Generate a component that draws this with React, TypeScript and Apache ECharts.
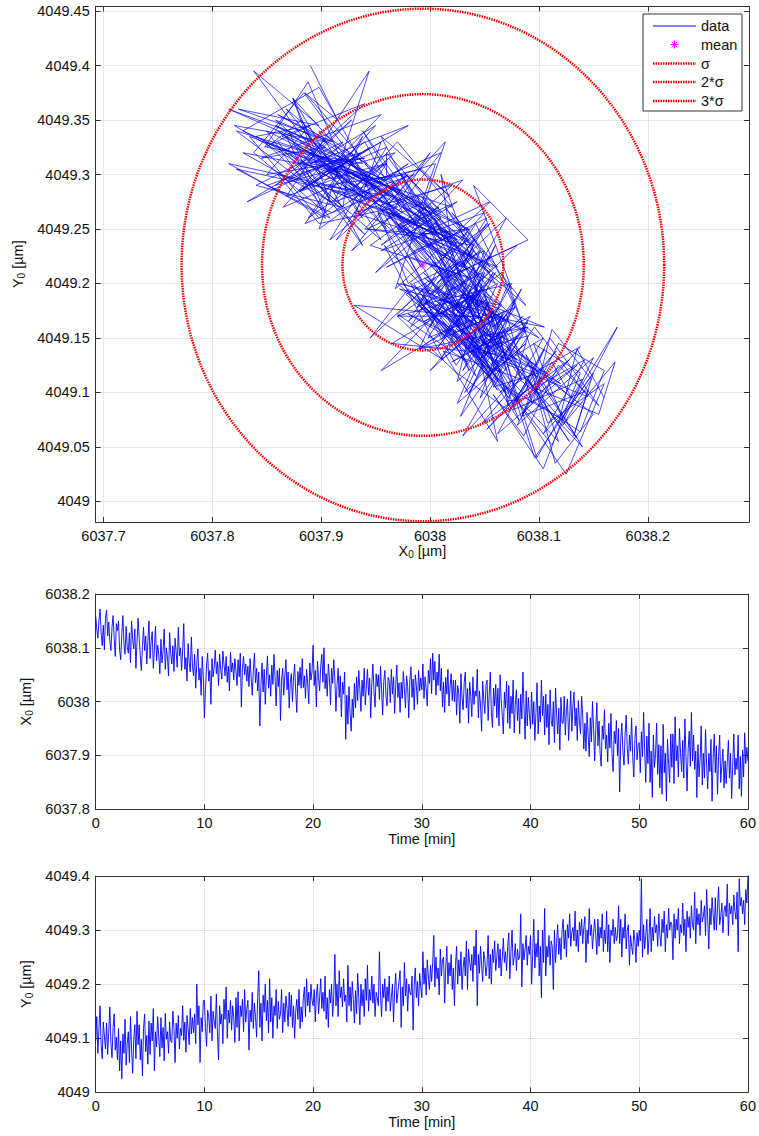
import React, { useEffect, useRef } from "react";
import * as echarts from "echarts";

// ---- data ----
// deviations in nm (0.001 µm) from the reference values, sampled every 0.1 min
const X0_REF_UM = 6038.0;
const Y0_REF_UM = 4049.0;
const SAMPLE_STEP_MIN = 0.1;

const x0DevNm: number[] = [
  160, 135, 118, 150, 172, 128, 104, 142, 96, 155,
  170, 122, 148, 112, 95, 138, 160, 118, 84, 145,
  132, 150, 96, 78, 125, 160, 108, 88, 140, 102,
  90, 128, 72, 150, 115, 98, 135, 62, 110, 155,
  118, 86, 58, 104, 138, 95, 122, 70, 112, 150,
  80, 112, 130, 62, 98, 140, 76, 105, 88, 52,
  116, 72, 94, 135, 60, 100, 82, 48, 128, 90,
  70, 104, 56, 118, 92, 64, 138, 85, 100, 58,
  96, 145, 60, 82, 38, 108, 72, 55, 120, 66,
  48, 88, 25, 72, 98, 40, 62, 12, 84, 45,
  -30, 22, 70, 90, 38, 58, -5, 80, 46, 65,
  96, 52, 74, 30, 88, 60, 42, 94, 70, 48,
  84, 36, 66, 20, 92, 55, 72, 40, 80, 58,
  30, 78, 46, 90, -10, 62, 84, 50, 70, 38,
  66, 28, 80, 44, 12, 58, 90, 35, 62, 20,
  55, -45, 30, 72, 18, 60, -5, 48, 85, 25,
  50, 10, 68, 32, 88, 45, -8, 58, 28, 62,
  -35, 40, 62, 12, 48, 78, 22, 55, -12, 36,
  52, 0, 44, 70, 18, -20, 56, 30, 64, 25,
  80, 26, 48, 6, 60, 35, -4, 72, 40, 55,
  105, 30, 58, -10, 75, 44, 20, 66, 88, 36,
  100, 24, 52, 10, 70, 45, -6, 62, 34, 78,
  42, -18, 30, 62, 8, 48, -28, 36, 14, 55,
  -70, 12, -42, 28, -20, -55, 5, -30, 34, -12,
  46, 2, 58, 24, -18, 40, 10, 62, -6, 30,
  60, 12, 44, -30, 36, 70, 18, -10, 52, 28,
  50, 4, 66, 22, -25, 38, 58, 12, -8, 45,
  40, -2, 60, 14, 46, -22, 30, 68, 8, 35,
  -20, 36, 6, 56, 22, -12, 48, 28, -30, 40,
  65, 8, 42, -15, 50, 30, -5, 58, 20, 44,
  22, 70, 6, 46, 25, -8, 58, 34, 80, 15,
  90, 40, 75, 12, 55, 30, 88, 20, 62, -10,
  36, -20, 45, 14, 60, -8, 28, 52, 2, 40,
  0, 40, -25, 30, 15, -40, 52, 8, -15, 35,
  55, -12, 24, -40, 36, 10, -28, 46, -5, 20,
  10, 60, -30, 20, -6, -55, 38, 4, -22, 30,
  40, -35, 14, 55, -20, -48, 25, -8, 32, -30,
  25, -45, 50, 4, -25, -60, 18, -12, 38, -40,
  30, -50, 10, -22, 40, -58, -5, 22, -35, 6,
  -60, 14, -32, 55, -10, -70, 20, -45, 8, -25,
  -50, 18, -42, 0, -72, -20, 35, -60, -8, -38,
  40, -26, 10, -62, 14, -48, -5, -80, 22, -35,
  -46, 0, -76, 25, -22, -60, -12, -90, 8, -40,
  -40, 10, -62, -16, 5, -72, -30, 20, -55, -8,
  18, -45, -12, -72, 2, -38, -60, 10, -25, -88,
  -40, -92, -20, -62, -102, -30, -75, 0, -50, -110,
  -52, -2, -82, -36, -96, -120, -45, -70, -15, -88,
  -62, -112, -40, -86, -22, -98, -130, -55, -78, -35,
  -100, -50, -168, -72, -40, -92, -118, -60, -25, -86,
  -116, -62, -92, -30, -102, -140, -70, -45, -108, -80,
  -76, -132, -56, -102, -20, -90, -150, -64, -115, -40,
  -150, -92, -178, -62, -122, -98, -40, -135, -80, -160,
  -82, -172, -42, -132, -96, -185, -70, -115, -150, -60,
  -122, -60, -152, -28, -110, -82, -140, -50, -95, -130,
  -72, -142, -32, -102, -166, -88, -55, -120, -20, -110,
  -62, -126, -92, -178, -80, -140, -108, -45, -155, -96,
  -142, -52, -116, -162, -96, -130, -70, -185, -104, -60,
  -132, -82, -172, -102, -62, -150, -118, -88, -160, -110,
  -152, -112, -72, -142, -96, -180, -120, -60, -136, -105,
  -126, -62, -162, -102, -176, -90, -140, -58, -115, -85,
  -110,
];

const y0DevNm: number[] = [
  95, 140, 72, 118, 160, 88, 62, 130, 104, 80,
  128, 70, 112, 158, 92, 64, 120, 145, 78, 102,
  60, 118, 40, 95, 25, 108, 72, 135, 50, 90,
  112, 55, 140, 80, 35, 98, 125, 62, 150, 88,
  125, 60, 98, 30, 118, 145, 75, 105, 52, 132,
  70, 128, 95, 155, 40, 112, 84, 140, 102, 66,
  138, 82, 120, 58, 146, 98, 112, 72, 130, 95,
  92, 150, 120, 55, 128, 100, 142, 80, 118, 105,
  160, 96, 130, 74, 142, 118, 88, 155, 108, 138,
  110, 145, 90, 200, 125, 160, 55, 138, 112, 170,
  170, 120, 85, 152, 138, 110, 178, 95, 150, 130,
  118, 182, 108, 60, 160, 126, 145, 90, 172, 135,
  195, 100, 152, 128, 170, 115, 160, 138, 92, 175,
  120, 186, 95, 160, 140, 172, 112, 190, 130, 155,
  170, 78, 152, 130, 185, 118, 165, 140, 102, 175,
  225, 120, 165, 95, 180, 148, 200, 132, 170, 110,
  210, 130, 175, 100, 160, 142, 190, 118, 168, 135,
  145, 190, 110, 165, 130, 178, 155, 122, 185, 140,
  180, 120, 160, 100, 150, 172, 135, 190, 118, 158,
  130, 175, 195, 140, 210, 160, 185, 148, 200, 170,
  160, 190, 130, 180, 200, 145, 175, 210, 155, 185,
  150, 215, 135, 175, 120, 190, 165, 200, 140, 178,
  255, 160, 200, 140, 225, 175, 195, 158, 210, 168,
  180, 130, 235, 160, 195, 150, 205, 172, 128, 188,
  145, 220, 175, 125, 200, 160, 190, 140, 210, 170,
  235, 150, 190, 170, 215, 165, 200, 140, 185, 175,
  160, 260, 180, 140, 200, 175, 210, 150, 195, 168,
  215, 150, 175, 200, 130, 190, 220, 165, 185, 205,
  225, 120, 195, 160, 240, 178, 210, 150, 200, 185,
  180, 215, 115, 200, 230, 175, 205, 160, 220, 195,
  175, 260, 200, 230, 180, 245, 215, 190, 235, 205,
  240, 290, 195, 250, 210, 230, 180, 265, 215, 245,
  250, 165, 230, 270, 200, 240, 215, 255, 190, 230,
  160, 235, 270, 200, 245, 215, 260, 190, 230, 250,
  215, 280, 190, 265, 240, 225, 255, 205, 270, 235,
  300, 160, 255, 220, 270, 235, 205, 260, 245, 215,
  235, 290, 210, 255, 200, 265, 240, 280, 225, 250,
  275, 230, 265, 215, 250, 285, 240, 260, 225, 270,
  295, 210, 260, 300, 235, 250, 275, 225, 265, 245,
  250, 330, 195, 275, 245, 265, 290, 235, 270, 255,
  290, 200, 255, 320, 230, 275, 250, 300, 215, 270,
  175, 300, 240, 340, 215, 270, 250, 290, 235, 280,
  270, 190, 300, 240, 275, 310, 255, 285, 245, 300,
  320, 265, 300, 250, 310, 285, 330, 270, 295, 305,
  280, 335, 270, 300, 260, 315, 290, 320, 275, 305,
  325, 240, 300, 275, 340, 290, 310, 265, 295, 320,
  290, 255, 320, 270, 305, 285, 330, 260, 300, 275,
  335, 260, 310, 240, 300, 290, 320, 275, 305, 280,
  290, 345, 275, 320, 250, 305, 285, 330, 265, 300,
  310, 235, 290, 270, 255, 300, 280, 240, 295, 270,
  300, 280, 395, 250, 310, 265, 290, 320, 255, 285,
  340, 260, 305, 280, 325, 295, 310, 270, 330, 290,
  270, 320, 295, 335, 260, 310, 285, 340, 300, 315,
  310, 245, 330, 285, 320, 300, 340, 275, 310, 295,
  350, 290, 320, 260, 335, 305, 325, 285, 345, 310,
  300, 370, 275, 340, 310, 330, 290, 355, 315, 325,
  345, 290, 375, 320, 265, 340, 310, 360, 330, 300,
  360, 300, 340, 380, 310, 325, 350, 295, 335, 345,
  325, 385, 290, 350, 330, 345, 310, 365, 335, 320,
  370, 260, 395, 345, 360, 330, 355, 310, 375, 350,
  400,
];

// statistics (mean marker and sigma ellipses)
const MEAN_X_UM = 6037.9934;
const MEAN_Y_UM = 4049.217;
const SIGMA_X_UM = 0.0739;
const SIGMA_Y_UM = 0.0784;
const SIGMA_MULTIPLES = [1, 2, 3];
const SIGMA_LABELS = ["σ", "2*σ", "3*σ"];
const LEGEND_LABELS = ["data", "mean"];

// axis ranges
const TOP_X_RANGE = [6037.6928, 6038.293];
const TOP_Y_RANGE = [4048.9811, 4049.4543];
const X_TS_RANGE = [6037.8, 6038.2];
const Y_TS_RANGE = [4049.0, 4049.4];
const TIME_RANGE = [0, 60];

const FONT = "'Liberation Sans', Arial, Helvetica, sans-serif";
const FS = 14.5;
const AXIS_COLOR = "#333333";
const BLUE = "#0000ff";
const RED = "#ff0000";
const MAGENTA = "#ff00ff";

const fmt = (v: number) => String(Math.round(v * 10000) / 10000);
const isMultiple = (v: number, step: number) =>
  Math.abs(v / step - Math.round(v / step)) < 1e-4;

export default function App() {
  const ref = useRef<HTMLDivElement>(null);

  useEffect(() => {
    if (!ref.current) return;
    const chart = echarts.init(ref.current, undefined, { renderer: "svg" });

    const xVals = x0DevNm.map((d) => X0_REF_UM + d / 1000);
    const yVals = y0DevNm.map((d) => Y0_REF_UM + d / 1000);
    const times = xVals.map((_, i) => i * SAMPLE_STEP_MIN);
    const trace = xVals.map((x, i) => [x, yVals[i]]);
    const xSeries = xVals.map((x, i) => [times[i], x]);
    const ySeries = yVals.map((y, i) => [times[i], y]);

    const ellipse = (k: number) => {
      const pts: number[][] = [];
      const N = 360;
      for (let i = 0; i <= N; i++) {
        const a = (i / N) * Math.PI * 2;
        pts.push([
          MEAN_X_UM + k * SIGMA_X_UM * Math.cos(a),
          MEAN_Y_UM + k * SIGMA_Y_UM * Math.sin(a),
        ]);
      }
      return pts;
    };

    const subName = (letter: string) => `${letter}{sub|0} [µm]`;
    const nameStyle = {
      fontFamily: FONT,
      fontSize: FS,
      color: "#111",
      rich: {
        sub: { fontFamily: FONT, fontSize: 10, color: "#111", verticalAlign: "bottom", padding: [6, 0, 0, 0] },
      },
    };

    const mainAxis = (
      gridIndex: number,
      position: string,
      range: number[],
      labelStep: number,
      splitNumber: number,
      name?: string,
      nameGap?: number
    ): any => ({
      type: "value",
      gridIndex,
      position,
      min: range[0],
      max: range[1],
      splitNumber,
      name,
      nameLocation: "middle",
      nameGap,
      nameTextStyle: nameStyle,
      axisLine: { show: true, onZero: false, lineStyle: { color: AXIS_COLOR, width: 1 } },
      axisTick: { show: true, inside: true, length: 5, lineStyle: { color: AXIS_COLOR } },
      splitLine: { show: true, lineStyle: { color: "#d0d0d0", type: "dotted", width: 1 } },
      axisLabel: {
        show: true,
        color: "#111",
        fontFamily: FONT,
        fontSize: FS,
        margin: 6,
        formatter: (v: number) => (isMultiple(v, labelStep) ? fmt(v) : ""),
      },
    });

    const mirrorAxis = (gridIndex: number, position: string, range: number[], splitNumber: number): any => ({
      type: "value",
      gridIndex,
      position,
      min: range[0],
      max: range[1],
      splitNumber,
      axisLine: { show: true, onZero: false, lineStyle: { color: AXIS_COLOR, width: 1 } },
      axisTick: { show: true, inside: true, length: 5, lineStyle: { color: AXIS_COLOR } },
      splitLine: { show: false },
      axisLabel: { show: false },
    });

    const legendX0 = 643;
    const legendY0 = 14;
    const legendRows = [26, 44.5, 63.5, 82, 101];
    const lineX1 = 653;
    const lineX2 = 696;
    const textX = 701;

    const asterisk = (cx: number, cy: number, r: number) => {
      const d = r * 0.707;
      return [
        [cx - r, cy, cx + r, cy],
        [cx, cy - r, cx, cy + r],
        [cx - d, cy - d, cx + d, cy + d],
        [cx - d, cy + d, cx + d, cy - d],
      ].map((s) => ({
        type: "line",
        shape: { x1: s[0], y1: s[1], x2: s[2], y2: s[3] },
        style: { stroke: MAGENTA, lineWidth: 1 },
        z: 101,
      }));
    };

    const legendTexts = [...LEGEND_LABELS, ...SIGMA_LABELS];
    const graphic: any[] = [
      {
        type: "rect",
        shape: { x: legendX0, y: legendY0, width: 99, height: 97 },
        style: { fill: "#ffffff", stroke: AXIS_COLOR, lineWidth: 1 },
        z: 100,
      },
      {
        type: "line",
        shape: { x1: lineX1, y1: legendRows[0], x2: lineX2, y2: legendRows[0] },
        style: { stroke: BLUE, lineWidth: 1 },
        z: 101,
      },
      ...asterisk((lineX1 + lineX2) / 2, legendRows[1], 4),
      ...SIGMA_LABELS.map((_, i) => ({
        type: "line",
        shape: { x1: lineX1, y1: legendRows[i + 2], x2: lineX2, y2: legendRows[i + 2] },
        style: { stroke: RED, lineWidth: 2.5, lineDash: [1.5, 1] },
        z: 101,
      })),
      ...legendTexts.map((t, i) => ({
        type: "text",
        x: textX,
        y: legendRows[i],
        style: {
          text: t,
          fontFamily: FONT,
          fontSize: FS,
          fill: "#111",
          verticalAlign: "middle",
          align: "left",
        },
        z: 101,
      })),
    ];

    const option: any = {
      animation: false,
      backgroundColor: "#ffffff",
      textStyle: { fontFamily: FONT },
      grid: [
        { left: 95.7, top: 6.4, width: 653.3, height: 515.6, containLabel: false },
        { left: 95.7, top: 594, width: 653.3, height: 215.3, containLabel: false },
        { left: 95.7, top: 876, width: 653.3, height: 216.3, containLabel: false },
      ],
      xAxis: [
        mainAxis(0, "bottom", TOP_X_RANGE, 0.1, 6, subName("X"), 21),
        mirrorAxis(0, "top", TOP_X_RANGE, 6),
        mainAxis(1, "bottom", TIME_RANGE, 10, 6, "Time [min]", 22),
        mirrorAxis(1, "top", TIME_RANGE, 6),
        mainAxis(2, "bottom", TIME_RANGE, 10, 6, "Time [min]", 22),
        mirrorAxis(2, "top", TIME_RANGE, 6),
      ],
      yAxis: [
        mainAxis(0, "left", TOP_Y_RANGE, 0.05, 9, subName("Y"), 68),
        mirrorAxis(0, "right", TOP_Y_RANGE, 9),
        mainAxis(1, "left", X_TS_RANGE, 0.1, 4, subName("X"), 59),
        mirrorAxis(1, "right", X_TS_RANGE, 4),
        mainAxis(2, "left", Y_TS_RANGE, 0.1, 4, subName("Y"), 59),
        mirrorAxis(2, "right", Y_TS_RANGE, 4),
      ],
      series: [
        {
          type: "line",
          name: "data",
          xAxisIndex: 0,
          yAxisIndex: 0,
          data: trace,
          showSymbol: false,
          symbol: "none",
          lineStyle: { color: BLUE, width: 0.7 },
          silent: true,
          z: 2,
        },
        ...SIGMA_MULTIPLES.map((k, i) => ({
          type: "line",
          name: SIGMA_LABELS[i],
          xAxisIndex: 0,
          yAxisIndex: 0,
          data: ellipse(k),
          showSymbol: false,
          symbol: "none",
          lineStyle: { color: RED, width: 2.5, type: [1.5, 1] },
          silent: true,
          z: 3,
        })),
        {
          type: "scatter",
          name: "mean",
          xAxisIndex: 0,
          yAxisIndex: 0,
          data: [[MEAN_X_UM, MEAN_Y_UM]],
          symbol: "path://M0 5 L10 5 M5 0 L5 10 M1.5 1.5 L8.5 8.5 M8.5 1.5 L1.5 8.5",
          symbolSize: 8,
          itemStyle: { color: "none", borderColor: MAGENTA, borderWidth: 1 },
          silent: true,
          z: 4,
        },
        {
          type: "line",
          name: "X0",
          xAxisIndex: 2,
          yAxisIndex: 2,
          data: xSeries,
          showSymbol: false,
          symbol: "none",
          lineStyle: { color: BLUE, width: 0.9 },
          silent: true,
        },
        {
          type: "line",
          name: "Y0",
          xAxisIndex: 4,
          yAxisIndex: 4,
          data: ySeries,
          showSymbol: false,
          symbol: "none",
          lineStyle: { color: BLUE, width: 0.9 },
          silent: true,
        },
      ],
      graphic,
    };

    chart.setOption(option);
    return () => chart.dispose();
  }, []);

  return (
    <div
      ref={ref}
      style={{ position: "absolute", left: 0, top: 0, width: 759, height: 1136, background: "#fff" }}
    />
  );
}
